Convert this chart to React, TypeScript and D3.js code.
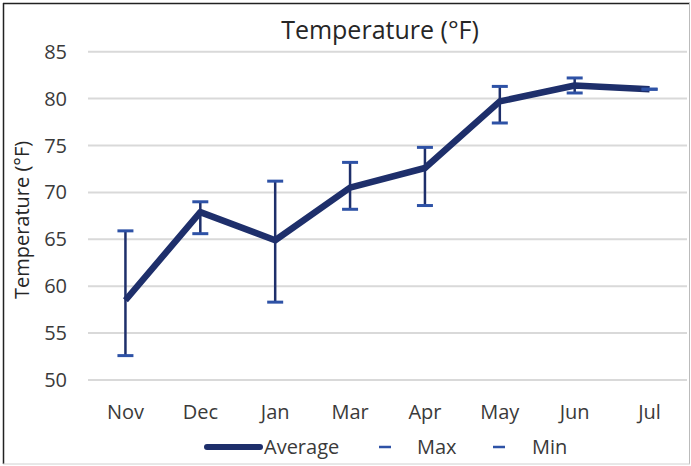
import React from "react";
import * as d3 from "d3";

const months = ["Nov", "Dec", "Jan", "Mar", "Apr", "May", "Jun", "Jul"];
const avgValues = [58.5, 67.9, 64.9, 70.5, 72.6, 79.7, 81.4, 81.0];
const maxValues = [65.9, 69.0, 71.2, 73.2, 74.8, 81.3, 82.2, 81.0];
const minValues = [52.6, 65.6, 58.3, 68.2, 68.6, 77.4, 80.6, 81.0];
const yTicks = [50, 55, 60, 65, 70, 75, 80, 85];
const legendItems = ["Average", "Max", "Min"];

const W = 691;
const H = 466;
const NAVY = "#1E2F6B";
const BLUE = "#2E52A6";
const FONT = "'Open Sans', sans-serif";

export default function App() {
  const x = d3.scaleBand<string>().domain(months).range([88, 687]);
  const y = d3.scaleLinear().domain([50, 85]).range([380, 51.7]);
  const cx = (m: string) => (x(m) as number) + x.bandwidth() / 2;

  const line = d3
    .line<number>()
    .x((_, i) => cx(months[i]))
    .y((d) => y(d));

  const capW = 16;

  return (
    <svg
      width={W}
      height={H}
      style={{ position: "absolute", left: 0, top: 0, background: "#fff" }}
      fontFamily={FONT}
    >
      <rect x={0} y={0} width={W} height={H} fill="#fff" />
      {/* frame */}
      <line x1={3} y1={3.5} x2={690} y2={3.5} stroke="#222" strokeWidth={1.5} />
      <line x1={3.5} y1={3} x2={3.5} y2={464} stroke="#222" strokeWidth={1.5} />
      <line x1={689.5} y1={3} x2={689.5} y2={464} stroke="#bbb" strokeWidth={1} />
      <line x1={3} y1={464} x2={690} y2={464} stroke="#d0d0d0" strokeWidth={1} />

      {/* title */}
      <text x={380} y={39} textAnchor="middle" fontSize={25} fill="#262626">
        Temperature (°F)
      </text>

      {/* gridlines and y ticks */}
      {yTicks.map((t) => (
        <g key={t}>
          <line x1={88} x2={687} y1={y(t)} y2={y(t)} stroke="#d9d9d9" strokeWidth={2} />
          <text
            x={67}
            y={y(t)}
            dy="0.35em"
            textAnchor="end"
            fontSize={20}
            fill="#3a3a3a"
          >
            {t}
          </text>
        </g>
      ))}

      {/* y title */}
      <text
        transform={`translate(22, ${220}) rotate(-90)`}
        textAnchor="middle"
        dy="0.35em"
        fontSize={20}
        fill="#262626"
      >
        Temperature (°F)
      </text>

      {/* x labels */}
      {months.map((m) => (
        <text
          key={m}
          x={cx(m)}
          y={412}
          dy="0.35em"
          textAnchor="middle"
          fontSize={20}
          fill="#3a3a3a"
        >
          {m}
        </text>
      ))}

      {/* high-low lines */}
      {months.map((m, i) => (
        <line
          key={"hl" + m}
          x1={cx(m)}
          x2={cx(m)}
          y1={y(maxValues[i])}
          y2={y(minValues[i])}
          stroke={NAVY}
          strokeWidth={2.5}
        />
      ))}

      {/* average line */}
      <path
        d={line(avgValues) as string}
        fill="none"
        stroke={NAVY}
        strokeWidth={6.5}
        strokeLinejoin="round"
        strokeLinecap="butt"
      />

      {/* max / min markers */}
      {months.map((m, i) => (
        <g key={"mk" + m}>
          <line
            x1={cx(m) - capW / 2}
            x2={cx(m) + capW / 2}
            y1={y(maxValues[i])}
            y2={y(maxValues[i])}
            stroke={BLUE}
            strokeWidth={3}
          />
          <line
            x1={cx(m) - capW / 2}
            x2={cx(m) + capW / 2}
            y1={y(minValues[i])}
            y2={y(minValues[i])}
            stroke={BLUE}
            strokeWidth={3}
          />
        </g>
      ))}

      {/* legend */}
      <g fontSize={20} fill="#3a3a3a">
        <line x1={207} x2={260} y1={447} y2={447} stroke={NAVY} strokeWidth={6} strokeLinecap="round" />
        <text x={264} y={447} dy="0.35em">{legendItems[0]}</text>
        <line x1={379} x2={391} y1={447} y2={447} stroke={BLUE} strokeWidth={2.5} />
        <text x={417} y={447} dy="0.35em">{legendItems[1]}</text>
        <line x1={493} x2={505} y1={447} y2={447} stroke={BLUE} strokeWidth={2.5} />
        <text x={532} y={447} dy="0.35em">{legendItems[2]}</text>
      </g>
    </svg>
  );
}
